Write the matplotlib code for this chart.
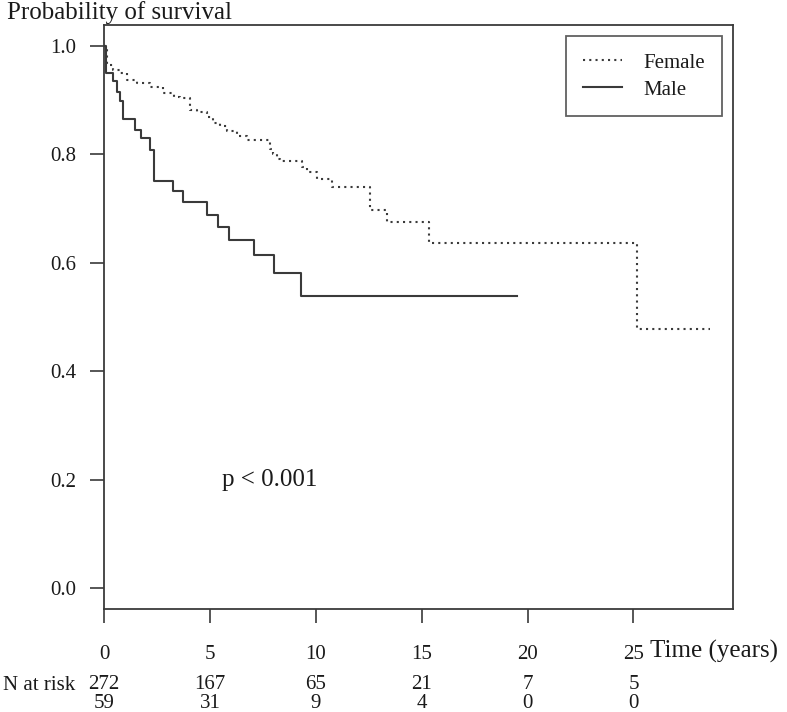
import matplotlib.pyplot as plt
from matplotlib import transforms

plt.rcParams['font.family'] = ['Liberation Serif', 'DejaVu Serif']

# Kaplan-Meier step data (time in years, survival after the drop)
female_time = [0, 0.13, 0.44, 0.76, 1.07, 1.55, 2.17, 2.80, 3.30, 3.59, 4.06, 4.38,
               4.85, 5.17, 5.48, 5.80, 6.27, 6.74, 7.84, 8.00, 8.16, 8.32, 9.34, 9.57,
               10.05, 10.76, 12.57, 13.36, 15.33, 25.17]
female_surv = [1.0, 0.964, 0.955, 0.949, 0.937, 0.931, 0.924, 0.912, 0.906, 0.903, 0.882, 0.877,
               0.868, 0.857, 0.851, 0.842, 0.834, 0.827, 0.810, 0.800, 0.792, 0.787, 0.777, 0.768,
               0.755, 0.740, 0.698, 0.675, 0.637, 0.478]
female_end = 28.6

male_time = [0, 0.10, 0.44, 0.63, 0.75, 0.88, 1.48, 1.77, 2.19, 2.38, 3.27, 3.75,
             4.88, 5.37, 5.89, 7.06, 8.05, 9.31]
male_surv = [1.0, 0.950, 0.934, 0.915, 0.898, 0.864, 0.845, 0.829, 0.808, 0.751, 0.732, 0.712,
             0.688, 0.665, 0.642, 0.614, 0.581, 0.539]
male_end = 19.5

risk_times = [0, 5, 10, 15, 20, 25]
risk_female = [272, 167, 65, 21, 7, 5]
risk_male = [59, 31, 9, 4, 0, 0]

line_col = '#3a3a3a'
text_col = '#1a1a1a'
W, H = 787, 712

fig = plt.figure(figsize=(7.87, 7.12), dpi=100)
ax = fig.add_axes([104 / W, 1 - 609 / H, (733 - 104) / W, (609 - 25) / H])

ax.step(female_time + [female_end], female_surv + [female_surv[-1]], where='post',
        color=line_col, lw=1.5, linestyle=(0, (1, 2)), label='Female')
ax.step(male_time + [male_end], male_surv + [male_surv[-1]], where='post',
        color=line_col, lw=1.5, label='Male')

ax.set_xlim(0, 29.7)
ax.set_ylim(-0.038, 1.038)
ax.set_xticks(risk_times)
ax.set_yticks([0.0, 0.2, 0.4, 0.6, 0.8, 1.0])
ax.set_yticklabels(['0.0', '0.2', '0.4', '0.6', '0.8', '1.0'])
ax.tick_params(axis='x', length=10, width=1.2, color=line_col, pad=16,
               labelsize=15, labelcolor=text_col)
ax.tick_params(axis='y', length=10, width=1.2, color=line_col, pad=10,
               labelsize=15, labelcolor=text_col)
for s in ax.spines.values():
    s.set_color(line_col)
    s.set_linewidth(1.3)

leg = ax.legend(loc='upper right', fontsize=15, frameon=True, fancybox=False,
                edgecolor=line_col, handlelength=1.9, handletextpad=1.0,
                borderaxespad=0.55, borderpad=0.8, labelspacing=0.35)
leg.get_frame().set_linewidth(1.3)
for t in leg.get_texts():
    t.set_color(text_col)

ax.text(5.58, 0.2, 'p < 0.001', fontsize=18, color=text_col, va='center', ha='left')

fig.text(7 / W, 1 - 13 / H, 'Probability of survival', fontsize=18, color=text_col,
         va='center', ha='left')
fig.text(650 / W, 1 - 651 / H, 'Time (years)', fontsize=18, color=text_col,
         va='center', ha='left')

# numbers at risk under the axis (female row above male row)
trans = transforms.blended_transform_factory(ax.transData, fig.transFigure)
fig.text(3 / W, 1 - 685 / H, 'N at risk', fontsize=15, color=text_col, va='center', ha='left')
for t, nf, nm in zip(risk_times, risk_female, risk_male):
    ax.text(t, 1 - 694 / H, f'{nf}\n{nm}', transform=trans, fontsize=15, color=text_col,
            va='center', ha='center', multialignment='center', linespacing=0.96,
            clip_on=False)

fig.savefig('out.png', dpi=100)
